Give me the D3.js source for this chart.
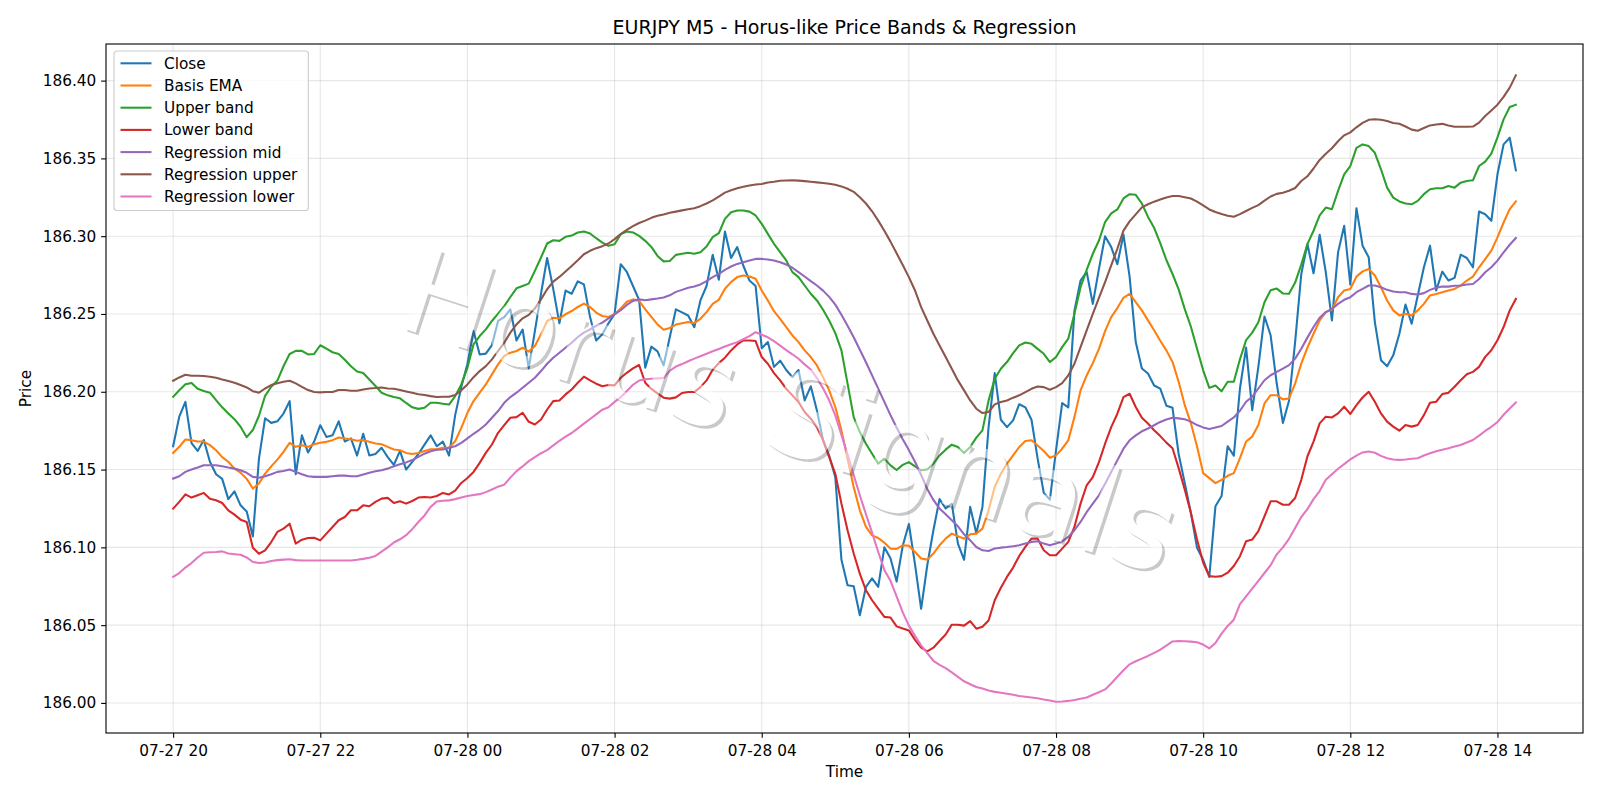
<!DOCTYPE html>
<html><head><meta charset="utf-8">
<script src="https://cdn.jsdelivr.net/npm/d3@7"></script>
<style>body{margin:0;background:#fff}svg text{font-family:"DejaVu Sans",sans-serif}</style>
</head><body><svg id="c" width="1600" height="800"></svg>
<script>
// ---- data ----
const startTime = Date.UTC(2024, 6, 27, 20, 0); // 07-27 20:00
const stepMinutes = 5;
const closeVals = [186.165,186.184,186.1935,186.167,186.162,186.169,186.155,186.147,186.144,186.131,186.136,186.127,186.123,186.107,186.157,186.183,186.180,186.181,186.186,186.194,186.147,186.172,186.161,186.168,186.1785,186.171,186.172,186.181,186.168,186.170,186.159,186.173,186.159,186.160,186.164,186.158,186.153,186.162,186.150,186.155,186.160,186.166,186.172,186.165,186.168,186.159,186.185,186.203,186.218,186.239,186.224,186.2245,186.230,186.2455,186.248,186.253,186.233,186.240,186.215,186.239,186.263,186.286,186.266,186.244,186.265,186.263,186.271,186.269,186.248,186.233,186.237,186.244,186.250,186.282,186.277,186.268,186.259,186.2155,186.229,186.226,186.217,186.235,186.253,186.251,186.249,186.2415,186.2587,186.268,186.288,186.272,186.303,186.286,186.293,186.281,186.2715,186.268,186.228,186.232,186.216,186.220,186.214,186.2095,186.214,186.1945,186.2035,186.188,186.169,186.159,186.145,186.092,186.0756,186.075,186.0564,186.0746,186.080,186.0746,186.100,186.093,186.078,186.101,186.115,186.089,186.0605,186.0885,186.111,186.131,186.125,186.128,186.1024,186.092,186.126,186.109,186.126,186.1773,186.212,186.182,186.1773,186.1816,186.192,186.190,186.182,186.157,186.135,186.1307,186.1623,186.1927,186.190,186.252,186.2715,186.277,186.2565,186.279,186.300,186.293,186.282,186.301,186.274,186.232,186.215,186.2117,186.204,186.202,186.191,186.1897,186.160,186.1413,186.122,186.0997,186.092,186.081,186.1264,186.133,186.165,186.159,186.2021,186.2284,186.1882,186.216,186.2484,186.2363,186.2053,186.180,186.1942,186.232,186.2757,186.295,186.2762,186.3009,186.2768,186.2459,186.2896,186.3067,186.2689,186.318,186.2939,186.2864,186.2448,186.2203,186.2164,186.2234,186.2373,186.2561,186.2437,186.2619,186.280,186.2939,186.2651,186.2772,186.2715,186.2732,186.2881,186.286,186.280,186.3159,186.3141,186.3099,186.3398,186.359,186.3633,186.3423];
const basisEma = [186.1607,186.1646,186.1693,186.1689,186.168,186.168,186.1657,186.1624,186.158,186.155,186.1506,186.148,186.144,186.1378,186.141,186.1474,186.152,186.1564,186.1614,186.1672,186.1646,186.1657,186.1646,186.1663,186.1672,186.1678,186.1689,186.1706,186.170,186.1695,186.1685,186.1689,186.1678,186.1667,186.1663,186.1646,186.1629,186.1624,186.1607,186.160,186.1607,186.1619,186.163,186.163,186.164,186.164,186.1682,186.1768,186.1865,186.194,186.1994,186.2047,186.2112,186.2176,186.223,186.2251,186.2262,186.2283,186.2258,186.2294,186.2369,186.2455,186.2476,186.2472,186.2498,186.2519,186.2545,186.2567,186.2545,186.2509,186.2487,186.2481,186.2498,186.2536,186.2579,186.2594,186.2584,186.253,186.2481,186.2433,186.2399,186.241,186.2432,186.2441,186.2448,186.2441,186.2469,186.2512,186.2565,186.2591,186.2662,186.2705,186.2737,186.2747,186.2741,186.2726,186.2651,186.2587,186.2518,186.2469,186.2415,186.2362,186.2319,186.2266,186.2223,186.2169,186.2094,186.2009,186.1902,186.1752,186.157,186.1388,186.1238,186.1131,186.1077,186.106,186.103,186.0992,186.099,186.1013,186.101,186.097,186.0928,186.0921,186.096,186.1013,186.1056,186.1088,186.1071,186.1056,186.1084,186.1088,186.112,186.1238,186.1388,186.1473,186.1538,186.1591,186.1645,186.1683,186.1688,186.1655,186.1619,186.1576,186.1591,186.1634,186.1688,186.1837,186.2009,186.2105,186.2184,186.2276,186.239,186.248,186.2538,186.2604,186.263,186.2576,186.2523,186.2459,186.2395,186.2328,186.2266,186.2192,186.2064,186.1914,186.1797,186.1648,186.1477,186.1445,186.1413,186.1434,186.146,186.1477,186.1573,186.168,186.1712,186.1786,186.1925,186.1978,186.1978,186.1951,186.1957,186.2053,186.2181,186.2284,186.2373,186.2459,186.2512,186.2527,186.2608,186.2651,186.2661,186.274,186.2774,186.2789,186.2747,186.2672,186.2587,186.2523,186.2491,186.2501,186.2491,186.2523,186.2565,186.2619,186.2629,186.264,186.2651,186.2661,186.2683,186.2715,186.274,186.28,186.2853,186.2907,186.2992,186.3088,186.3174,186.3223];
const upperBand = [186.1967,186.201,186.2048,186.2057,186.2019,186.2005,186.1994,186.1946,186.19,186.186,186.1824,186.1775,186.1708,186.1754,186.1846,186.1974,186.2032,186.2072,186.2164,186.2243,186.2263,186.2263,186.224,186.2243,186.2299,186.2277,186.2254,186.2243,186.2206,186.2164,186.213,186.2121,186.2079,186.2037,186.1994,186.1977,186.1966,186.1958,186.1928,186.19,186.189,186.1897,186.1929,186.1929,186.1923,186.1918,186.1972,186.2047,186.2154,186.2305,186.2358,186.2401,186.2455,186.2502,186.2551,186.2609,186.2665,186.268,186.2695,186.2777,186.2863,186.2953,186.2974,186.297,186.2996,186.3004,186.3024,186.303,186.3017,186.2987,186.2959,186.2938,186.2948,186.3013,186.303,186.3024,186.3002,186.297,186.2931,186.2873,186.2838,186.284,186.288,186.2887,186.2893,186.2887,186.2897,186.2934,186.2994,186.3019,186.3111,186.3154,186.3165,186.3165,186.3158,186.3133,186.3079,186.3015,186.2951,186.2897,186.2844,186.2769,186.2737,186.2683,186.263,186.2587,186.2527,186.2458,186.2377,186.2266,186.2052,186.1837,186.1741,186.1666,186.1602,186.1538,186.157,186.1527,186.1497,186.153,186.1548,186.152,186.1495,186.1501,186.1538,186.1591,186.1628,186.166,186.1645,186.1606,186.1645,186.1705,186.1752,186.1944,186.2084,186.2148,186.2191,186.2248,186.2298,186.2317,186.2308,186.2276,186.2244,186.2191,186.2223,186.2287,186.2341,186.2501,186.2672,186.2784,186.2887,186.2972,186.309,186.3146,186.3172,186.3243,186.327,186.3266,186.321,186.3124,186.3054,186.2955,186.2847,186.2757,186.2658,186.2531,186.2418,186.2277,186.2138,186.2025,186.204,186.2003,186.2064,186.2064,186.2209,186.2332,186.238,186.2447,186.2575,186.2652,186.2663,186.2632,186.263,186.2702,186.2817,186.2949,186.3035,186.3134,186.3184,186.3173,186.3291,186.3398,186.3451,186.3568,186.359,186.3579,186.3536,186.343,186.3312,186.3248,186.3223,186.321,186.3205,186.3227,186.327,186.3302,186.3308,186.3308,186.3323,186.3312,186.3344,186.3355,186.3359,186.3451,186.3479,186.353,186.3635,186.3751,186.383,186.3845];
const lowerBand = [186.1249,186.1292,186.1341,186.132,186.1335,186.135,186.1313,186.1303,186.1285,186.1238,186.121,186.1178,186.1163,186.0998,186.0959,186.0981,186.1034,186.1099,186.112,186.1152,186.1024,186.1049,186.106,186.1062,186.1045,186.1088,186.1131,186.1174,186.1195,186.1238,186.1238,186.127,186.1264,186.1292,186.1313,186.1318,186.1285,186.1296,186.1281,186.1298,186.132,186.1324,186.132,186.133,186.135,186.134,186.1365,186.1414,186.1446,186.1485,186.1543,186.1607,186.1661,186.1736,186.1785,186.1833,186.1837,186.1865,186.1807,186.179,186.1822,186.1886,186.194,186.1944,186.1983,186.2015,186.2058,186.2097,186.2073,186.2052,186.2036,186.2043,186.2041,186.209,186.2122,186.215,186.2172,186.2058,186.2018,186.199,186.1962,186.1956,186.1964,186.1992,186.1998,186.1998,186.203,186.2073,186.2141,186.2184,186.2219,186.2266,186.2304,186.233,186.233,186.2326,186.2223,186.218,186.212,186.2073,186.2019,186.1977,186.1934,186.187,186.1827,186.1773,186.1688,186.158,186.1473,186.1281,186.111,186.096,186.0831,186.0724,186.066,186.0606,186.0553,186.0549,186.0492,186.0478,186.0466,186.0405,186.0355,186.0332,186.0355,186.0398,186.044,186.0503,186.0503,186.0497,186.0526,186.0477,186.049,186.053,186.066,186.074,186.081,186.087,186.0945,186.1003,186.1056,186.1056,186.0981,186.0949,186.0949,186.0992,186.1035,186.1131,186.1281,186.1399,186.1452,186.1548,186.1666,186.1773,186.1859,186.1966,186.1987,186.1902,186.1833,186.1796,186.1753,186.1715,186.1673,186.1637,186.1509,186.137,186.1221,186.105,186.0901,186.0815,186.0811,186.0815,186.0837,186.088,186.0943,186.1039,186.105,186.1104,186.12,186.1296,186.1296,186.1274,186.1274,186.1317,186.1434,186.1584,186.168,186.1797,186.184,186.1835,186.1861,186.1904,186.1857,186.1914,186.1963,186.2,186.1936,186.1861,186.1808,186.1776,186.175,186.1786,186.1776,186.1786,186.185,186.1929,186.1936,186.1985,186.1993,186.2032,186.2074,186.2113,186.2128,186.216,186.2224,186.2267,186.2331,186.2416,186.2523,186.2597];
const regMid = [186.1442,186.1457,186.1485,186.15,186.1513,186.1528,186.1528,186.1528,186.1521,186.1513,186.1506,186.1496,186.1479,186.1453,186.1448,186.1457,186.147,186.1485,186.1491,186.15,186.1485,186.147,186.1457,186.1453,186.1453,186.1453,186.1457,186.1461,186.1461,186.1457,186.1457,186.1468,186.1479,186.1489,186.1496,186.1506,186.1521,186.1534,186.1546,186.1561,186.1582,186.1602,186.1618,186.1627,186.1629,186.164,186.165,186.1672,186.17,186.173,186.1757,186.179,186.1833,186.1876,186.1929,186.1966,186.1994,186.2026,186.2058,186.209,186.2133,186.218,186.2219,186.2251,186.2283,186.2315,186.2352,186.238,186.2401,186.2423,186.2444,186.2472,186.2498,186.2524,186.2558,186.2584,186.2594,186.2588,186.2594,186.2599,186.2606,186.262,186.2642,186.2655,186.2668,186.2677,186.269,186.2711,186.2737,186.2758,186.2784,186.2805,186.2822,186.2833,186.2844,186.2854,186.2854,186.285,186.2844,186.2833,186.2818,186.2797,186.2769,186.2741,186.2711,186.2683,186.265,186.261,186.256,186.2495,186.2425,186.235,186.227,186.219,186.2105,186.202,186.1935,186.185,186.177,186.1695,186.1625,186.155,186.1465,186.1375,186.1305,186.1249,186.1212,186.1174,186.1135,186.1084,186.1045,186.1002,186.0981,186.0977,186.0992,186.0998,186.1002,186.1007,186.1013,186.1024,186.1035,186.1039,186.1024,186.1013,186.1024,186.1039,186.1067,186.111,186.1163,186.1227,186.1281,186.1334,186.1409,186.1484,186.1559,186.1634,186.1688,186.172,186.1746,186.1764,186.1785,186.1806,186.1822,186.1833,186.1829,186.1823,186.1808,186.1786,186.1771,186.1761,186.1771,186.178,186.1808,186.1835,186.1878,186.1936,186.1968,186.2021,186.2074,186.2106,186.2128,186.2149,186.2171,186.2213,186.2277,186.2348,186.2416,186.2476,186.2512,186.2533,186.2565,186.2591,186.2608,186.264,186.2661,186.2683,186.2683,186.2672,186.2655,186.2644,186.264,186.264,186.2629,186.2625,186.2634,186.2655,186.2668,186.2676,186.2676,186.2681,186.2683,186.2689,186.2693,186.2725,186.2768,186.28,186.2843,186.2896,186.2945,186.2988];
const regUpper = [186.2071,186.2092,186.2109,186.2103,186.2103,186.2101,186.2097,186.209,186.2079,186.2069,186.2058,186.2043,186.2028,186.2004,186.1994,186.2021,186.2043,186.2054,186.2064,186.2071,186.2054,186.2032,186.2011,186.1998,186.1996,186.1998,186.1998,186.2011,186.2011,186.2006,186.2006,186.2015,186.2021,186.2024,186.2028,186.2021,186.2019,186.2011,186.2002,186.1993,186.1984,186.1979,186.1972,186.1966,186.1968,186.1968,186.1979,186.2009,186.2047,186.2094,186.2133,186.2165,186.2208,186.2262,186.2315,186.238,186.2433,186.2472,186.2494,186.2536,186.2594,186.2659,186.2708,186.2738,186.2773,186.2809,186.2845,186.2884,186.2906,186.2923,186.2936,186.2953,186.2981,186.3013,186.304,186.3065,186.3085,186.31,186.3118,186.3131,186.314,186.315,186.3158,186.3166,186.3173,186.318,186.3193,186.321,186.323,186.3255,186.328,186.3295,186.3308,186.3318,186.3326,186.3332,186.3336,186.3345,186.335,186.3356,186.3358,186.3359,186.3357,186.3354,186.335,186.3346,186.3342,186.3337,186.333,186.332,186.3305,186.3285,186.325,186.321,186.316,186.31,186.3035,186.2965,186.289,186.2815,186.2737,186.2651,186.2544,186.2458,186.2373,186.2298,186.2223,186.2148,186.2073,186.2009,186.1944,186.1891,186.1863,186.187,186.1919,186.1934,186.1944,186.1962,186.1977,186.1998,186.2019,186.2034,186.203,186.2013,186.203,186.2056,186.2105,186.218,186.2287,186.2394,186.2501,186.2604,186.2705,186.2812,186.2919,186.3036,186.3095,186.314,186.3185,186.3205,186.3222,186.3236,186.3249,186.3258,186.3258,186.325,186.3242,186.3222,186.3198,186.3172,186.3155,186.3142,186.3132,186.3125,186.3142,186.3162,186.3182,186.32,186.3228,186.3255,186.3272,186.3279,186.3292,186.331,186.3355,186.3385,186.3435,186.349,186.353,186.3565,186.361,186.3648,186.3667,186.37,186.3728,186.3748,186.3752,186.3748,186.374,186.3728,186.3723,186.3705,186.3685,186.3678,186.3695,186.3712,186.3718,186.3722,186.3712,186.3703,186.3703,186.3703,186.3705,186.373,186.3772,186.3808,186.3845,186.3895,186.3955,186.4034];
const regLower = [186.081,186.0835,186.087,186.0899,186.0935,186.0965,186.0968,186.097,186.0974,186.096,186.0956,186.0952,186.0935,186.0906,186.0899,186.0903,186.0912,186.0918,186.0921,186.0923,186.0918,186.0916,186.0916,186.0916,186.0916,186.0916,186.0916,186.0916,186.0916,186.0916,186.092,186.0926,186.0933,186.0945,186.0972,186.1,186.1031,186.1052,186.1078,186.1117,186.1163,186.1205,186.126,186.1295,186.13,186.1302,186.131,186.132,186.133,186.1336,186.1342,186.1355,186.1372,186.139,186.1403,186.1448,186.149,186.152,186.1554,186.158,186.1605,186.1625,186.1655,186.1685,186.1712,186.1735,186.1765,186.1795,186.1825,186.1855,186.1885,186.19,186.1935,186.1965,186.2005,186.2045,186.2072,186.208,186.2084,186.2086,186.2088,186.2135,186.2162,186.2178,186.2196,186.2212,186.2228,186.2244,186.226,186.2275,186.2291,186.2306,186.2319,186.2338,186.2358,186.2383,186.2366,186.235,186.2325,186.2297,186.2268,186.2241,186.2212,186.2176,186.2143,186.2088,186.2022,186.1945,186.1848,186.1723,186.1598,186.1465,186.1335,186.1213,186.1095,186.097,186.0855,186.0785,186.0685,186.0582,186.0497,186.0431,186.037,186.032,186.0271,186.0245,186.0224,186.0196,186.0168,186.0139,186.012,186.0102,186.0092,186.008,186.0071,186.0066,186.0059,186.0052,186.0045,186.004,186.0035,186.003,186.0022,186.0015,186.0008,186.0009,186.0013,186.0019,186.0027,186.0035,186.0053,186.0069,186.0087,186.0125,186.0168,186.021,186.0248,186.0268,186.0285,186.0302,186.0322,186.0342,186.0368,186.0395,186.0398,186.0396,186.0394,186.039,186.0375,186.035,186.0385,186.0445,186.0495,186.0535,186.0635,186.0685,186.0735,186.0785,186.0835,186.0885,186.0955,186.1,186.1055,186.1125,186.1195,186.1245,186.131,186.1362,186.1434,186.147,186.1505,186.1535,186.1565,186.159,186.161,186.1616,186.1608,186.1588,186.1573,186.1565,186.1562,186.1565,186.157,186.1573,186.159,186.1605,186.1618,186.1628,186.1637,186.1648,186.1658,186.1674,186.169,186.1718,186.1748,186.1775,186.1805,186.1852,186.1892,186.1931];
const seriesNames = ["Close","Basis EMA","Upper band","Lower band","Regression mid","Regression upper","Regression lower"];
const seriesColors = ["#1f77b4","#ff7f0e","#2ca02c","#d62728","#9467bd","#8c564b","#e377c2"];
const yTicks = [186.00,186.05,186.10,186.15,186.20,186.25,186.30,186.35,186.40];
const xTickLabels = ["07-27 20","07-27 22","07-28 00","07-28 02","07-28 04","07-28 06","07-28 08","07-28 10","07-28 12","07-28 14"];
const titleText = "EURJPY M5 - Horus-like Price Bands & Regression";
const watermarkText = "Horus Signals";

// ---- layout ----
const W = 1600, H = 800;
const L = 106, R = 1583, T = 44, B = 733;
const FS = 15.3;
const svg = d3.select("#c");
svg.append("rect").attr("width", W).attr("height", H).attr("fill", "#fff");

const allSeries = [closeVals, basisEma, upperBand, lowerBand, regMid, regUpper, regLower];
const times = closeVals.map((_, i) => new Date(startTime + i * stepMinutes * 60000));
const t0 = times[0].getTime(), t1 = times[times.length - 1].getTime();
const xpad = (t1 - t0) * 0.05;
const x = d3.scaleUtc().domain([new Date(t0 - xpad), new Date(t1 + xpad)]).range([L, R]);
const vmin = d3.min(allSeries, s => d3.min(s)), vmax = d3.max(allSeries, s => d3.max(s));
const ypad = (vmax - vmin) * 0.05;
const y = d3.scaleLinear().domain([vmin - ypad, vmax + ypad]).range([B, T]);

const xTickDates = xTickLabels.map((_, k) => new Date(startTime + k * 2 * 3600000));

// grid
const grid = svg.append("g").attr("stroke", "#b0b0b0").attr("stroke-opacity", 0.3).attr("stroke-width", 1.1);
xTickDates.forEach(d => grid.append("line").attr("x1", x(d)).attr("x2", x(d)).attr("y1", T).attr("y2", B));
yTicks.forEach(v => grid.append("line").attr("x1", L).attr("x2", R).attr("y1", y(v)).attr("y2", y(v)));

// lines
const defs = svg.append("defs");
defs.append("clipPath").attr("id", "plotclip").append("rect").attr("x", L).attr("y", T).attr("width", R - L).attr("height", B - T);
const lineG = svg.append("g").attr("clip-path", "url(#plotclip)");
allSeries.forEach((s, k) => {
  const line = d3.line().x((d, i) => x(times[i])).y(d => y(d));
  lineG.append("path").datum(s).attr("d", line).attr("fill", "none")
    .attr("stroke", seriesColors[k]).attr("stroke-width", 2.08)
    .attr("stroke-linejoin", "round").attr("stroke-linecap", "square");
});

// watermark: pale glyphs, gray drop-shadow visible only outside the glyphs
const wmX = 790, wmY = 411, wmRot = 18, wmSize = 118, wmOff = 2.8;
const glyphTf = `translate(${wmX},${wmY}) rotate(${wmRot})`;
const mask = defs.append("mask").attr("id", "wmMask").attr("maskUnits", "userSpaceOnUse")
  .attr("maskContentUnits", "userSpaceOnUse")
  .attr("x", 0).attr("y", 0).attr("width", W).attr("height", H);
mask.append("rect").attr("width", W).attr("height", H).attr("fill", "#fff");
mask.append("text").text(watermarkText).attr("transform", glyphTf)
  .attr("text-anchor", "middle").attr("dominant-baseline", "central")
  .attr("font-size", wmSize).attr("fill", "#000");
svg.append("g").attr("mask", "url(#wmMask)")
  .append("text").text(watermarkText)
  .attr("transform", `translate(${wmX + wmOff},${wmY + wmOff}) rotate(${wmRot})`)
  .attr("text-anchor", "middle").attr("dominant-baseline", "central")
  .attr("font-size", wmSize).attr("fill", "#4d4d4d").attr("fill-opacity", 0.3);
svg.append("text").text(watermarkText).attr("transform", glyphTf)
  .attr("text-anchor", "middle").attr("dominant-baseline", "central")
  .attr("font-size", wmSize).attr("fill", "#ffffff").attr("fill-opacity", 0.5);

// axes
const yAxis = d3.axisLeft(y).tickValues(yTicks).tickFormat(d3.format(".2f")).tickSize(4.86).tickPadding(4.86);
const gy = svg.append("g").attr("transform", `translate(${L},0)`).call(yAxis);
const xAxis = d3.axisBottom(x).tickValues(xTickDates).tickFormat((d, i) => xTickLabels[i]).tickSize(4.86).tickPadding(7.3);
const gx = svg.append("g").attr("transform", `translate(0,${B})`).call(xAxis);
[gx, gy].forEach(g => {
  g.select(".domain").remove();
  g.selectAll(".tick line").attr("stroke", "#000").attr("stroke-width", 1.1);
  g.selectAll(".tick text").attr("font-size", FS).attr("fill", "#000").attr("font-family", "DejaVu Sans");
});
svg.append("rect").attr("x", L).attr("y", T).attr("width", R - L).attr("height", B - T)
  .attr("fill", "none").attr("stroke", "#000").attr("stroke-width", 1.1);

// labels
svg.append("text").text(titleText).attr("x", (L + R) / 2).attr("y", 33.5)
  .attr("text-anchor", "middle").attr("font-size", 19).attr("fill", "#000");
svg.append("text").text("Time").attr("x", (L + R) / 2).attr("y", 777)
  .attr("text-anchor", "middle").attr("font-size", FS).attr("fill", "#000");
svg.append("text").text("Price").attr("transform", `translate(31,${(T + B) / 2}) rotate(-90)`)
  .attr("text-anchor", "middle").attr("font-size", FS).attr("fill", "#000");

// legend
const lgX = 114, lgY = 51, rowH = 22.2, firstRow = 12.3;
const lg = svg.append("g");
const lgBox = lg.append("rect").attr("x", lgX).attr("y", lgY).attr("rx", 3).attr("ry", 3)
  .attr("fill", "#fff").attr("fill-opacity", 0.8).attr("stroke", "#cccccc").attr("stroke-width", 1.1);
let maxW = 0;
seriesNames.forEach((n, k) => {
  const cy = lgY + firstRow + k * rowH;
  lg.append("line").attr("x1", 120.5).attr("x2", 151.5).attr("y1", cy).attr("y2", cy)
    .attr("stroke", seriesColors[k]).attr("stroke-width", 2.08);
  const t = lg.append("text").text(n).attr("x", 164).attr("y", cy).attr("dy", "0.36em")
    .attr("font-size", FS).attr("fill", "#000");
  maxW = Math.max(maxW, t.node().getComputedTextLength());
});
lgBox.attr("width", 164 - lgX + maxW + 11).attr("height", firstRow + 6 * rowH + 14);
</script></body></html>
